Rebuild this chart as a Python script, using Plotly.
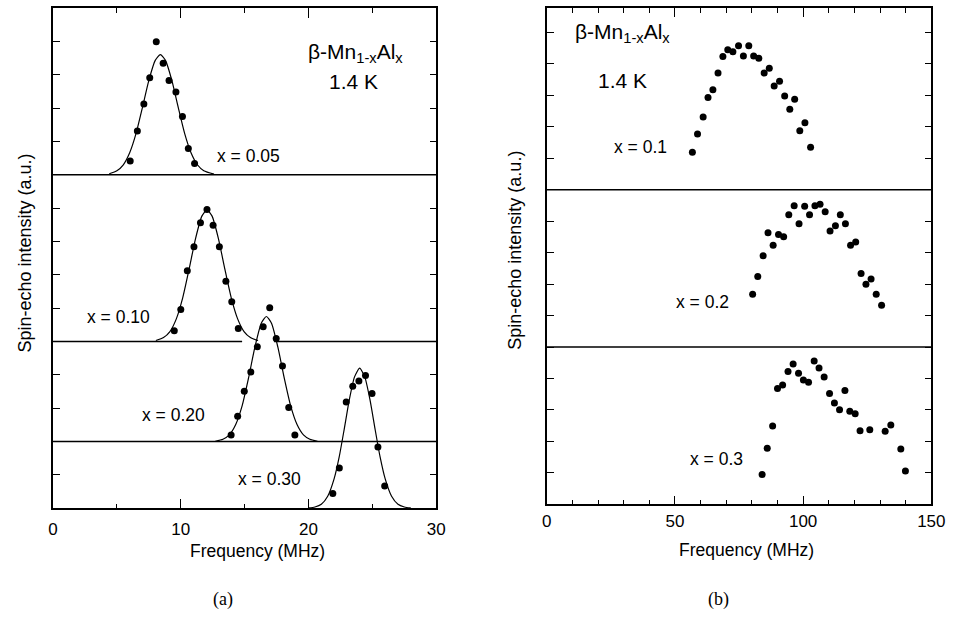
import plotly.graph_objects as go

# ---------------- Panel (a): data ----------------
a_x005_freq = [6.04, 6.60, 7.11, 7.57, 8.08, 8.62, 9.08, 9.62, 10.13, 10.59, 11.08]
a_x005_int = [10.41, 11.31, 12.12, 12.91, 13.99, 13.34, 12.83, 12.48, 11.75, 10.79, 10.34]
a_x005_fit_freq = [4.4, 5.0, 5.5, 6.0, 6.5, 7.0, 7.5, 8.0, 8.4, 8.8, 9.3, 9.8, 10.3, 10.8, 11.3, 11.8, 12.6]
a_x005_fit_int = [10.03, 10.12, 10.30, 10.66, 11.24, 12.02, 12.83, 13.43, 13.60, 13.43, 12.83, 12.02, 11.24, 10.66, 10.30, 10.12, 10.02]

a_x010_freq = [9.49, 10.0, 10.51, 11.03, 11.54, 12.05, 12.53, 13.02, 13.53, 13.99, 14.5]
a_x010_int = [5.32, 5.96, 7.12, 7.84, 8.56, 8.96, 8.49, 7.84, 6.81, 6.19, 5.39]
a_x010_fit_freq = [8.05, 8.65, 9.15, 9.65, 10.15, 10.65, 11.15, 11.65, 12.05, 12.45, 12.95, 13.45, 13.95, 14.45, 14.95, 15.45, 16.05]
a_x010_fit_int = [5.03, 5.12, 5.30, 5.68, 6.31, 7.17, 8.08, 8.76, 8.95, 8.76, 8.08, 7.17, 6.31, 5.68, 5.30, 5.12, 5.03]

a_x020_freq = [13.94, 14.45, 14.97, 15.48, 15.99, 16.45, 16.96, 17.47, 17.96, 18.45, 18.93]
a_x020_int = [2.20, 2.76, 3.51, 4.09, 4.84, 5.44, 6.01, 5.09, 4.27, 3.02, 2.20]
a_x020_fit_freq = [12.7, 13.3, 13.8, 14.3, 14.8, 15.3, 15.8, 16.3, 16.7, 17.1, 17.6, 18.1, 18.6, 19.1, 19.6, 20.1, 20.7]
a_x020_fit_int = [2.01, 2.07, 2.20, 2.51, 3.07, 3.90, 4.83, 5.55, 5.75, 5.55, 4.83, 3.90, 3.07, 2.51, 2.20, 2.07, 2.01]

a_x030_freq = [21.9, 22.41, 22.95, 23.46, 23.94, 24.46, 24.97, 25.43, 25.96]
a_x030_int = [0.44, 1.21, 3.19, 3.66, 3.82, 3.98, 3.44, 1.84, 0.67]
a_x030_fit_freq = [20.0, 20.5, 21.0, 21.5, 22.0, 22.4, 22.8, 23.2, 23.6, 24.0, 24.4, 24.8, 25.2, 25.6, 26.0, 26.5, 27.0, 27.5, 28.0]
a_x030_fit_int = [0.01, 0.04, 0.12, 0.36, 0.88, 1.54, 2.39, 3.27, 3.94, 4.20, 3.94, 3.27, 2.39, 1.54, 0.88, 0.36, 0.12, 0.04, 0.01]

# baselines of panel (a)
a_baseline_x = [[0, 30], [0, 14.8, None, 17.3, 30], [0, 30]]
a_baseline_y = [[10, 10], [5, 5, None, 5, 5], [2, 2]]

a_labels = ["x = 0.05", "x = 0.10", "x = 0.20", "x = 0.30"]
a_label_x = [15.3, 5.1, 9.4, 16.95]
a_label_y = [10.56, 5.74, 2.79, 0.89]

# ---------------- Panel (b) ----------------
b_x01_freq = [56.8, 58.8, 61.0, 62.9, 64.8, 66.8, 68.7, 70.6, 72.6, 74.8, 76.7, 78.8, 80.7, 82.7,
              84.8, 86.8, 88.7, 90.8, 92.8, 94.8, 96.7, 98.7, 100.7, 102.9]
b_x01_int = [11.19, 11.77, 12.31, 12.93, 13.18, 13.71, 14.24, 14.45, 14.39, 14.58, 14.25, 14.58, 14.25, 14.18,
             13.71, 13.86, 13.30, 13.45, 12.98, 12.56, 12.88, 11.88, 12.13, 11.35]

b_x02_freq = [80.3, 82.3, 84.4, 86.3, 88.3, 90.4, 92.4, 94.4, 96.5, 98.4, 100.6, 102.5, 104.6, 106.6,
              108.6, 110.5, 112.6, 114.5, 116.5, 118.5, 120.5, 122.6, 124.5, 126.5, 128.5, 130.6]
b_x02_int = [6.68, 7.24, 7.90, 8.63, 8.24, 8.58, 8.51, 9.21, 9.49, 8.92, 9.48, 9.21, 9.49, 9.54,
             9.30, 8.69, 8.86, 9.21, 8.92, 8.24, 8.34, 7.34, 7.00, 7.16, 6.68, 6.33]

b_x03_freq = [84.0, 86.0, 88.1, 90.0, 92.0, 94.1, 96.1, 98.2, 100.1, 102.1, 104.3, 106.2, 108.2, 110.3,
              112.2, 114.2, 116.3, 118.2, 120.3, 122.2, 126.0, 132.0, 134.2, 138.1, 139.9]
b_x03_int = [0.95, 1.78, 2.49, 3.68, 3.79, 4.22, 4.46, 4.17, 3.95, 3.88, 4.56, 4.33, 4.05, 3.52,
             3.22, 3.01, 3.62, 2.96, 2.88, 2.34, 2.37, 2.32, 2.52, 1.76, 1.06]

b_baseline_levels = [10, 5]

b_labels = ["x = 0.1", "x = 0.2", "x = 0.3"]
b_label_x = [36.5, 60.9, 66.1]
b_label_y = [11.37, 6.44, 1.44]

# ---------------- Figure ----------------
W, H = 961, 618
FONT = "Liberation Sans, Arial, Helvetica, sans-serif"
SERIF = "Liberation Serif, Times New Roman, serif"
BLACK = "#000000"

fig = go.Figure()

marker = dict(color=BLACK, size=7, symbol="circle")
fitline = dict(color=BLACK, width=1.2, shape="spline", smoothing=0.6)

# panel (a)
for xs, ys in zip(a_baseline_x, a_baseline_y):
    fig.add_trace(go.Scatter(x=xs, y=ys, mode="lines", line=dict(color=BLACK, width=1.5),
                             xaxis="x", yaxis="y", showlegend=False, hoverinfo="skip"))
for fx, fy in [(a_x005_fit_freq, a_x005_fit_int), (a_x010_fit_freq, a_x010_fit_int),
               (a_x020_fit_freq, a_x020_fit_int), (a_x030_fit_freq, a_x030_fit_int)]:
    fig.add_trace(go.Scatter(x=fx, y=fy, mode="lines", line=fitline,
                             xaxis="x", yaxis="y", showlegend=False))
for px_, py_ in [(a_x005_freq, a_x005_int), (a_x010_freq, a_x010_int),
                 (a_x020_freq, a_x020_int), (a_x030_freq, a_x030_int)]:
    fig.add_trace(go.Scatter(x=px_, y=py_, mode="markers", marker=marker,
                             xaxis="x", yaxis="y", showlegend=False))

# panel (b)
for lvl in b_baseline_levels:
    fig.add_trace(go.Scatter(x=[0, 150], y=[lvl, lvl], mode="lines", line=dict(color=BLACK, width=1.5),
                             xaxis="x2", yaxis="y2", showlegend=False, hoverinfo="skip"))
for px_, py_ in [(b_x01_freq, b_x01_int), (b_x02_freq, b_x02_int), (b_x03_freq, b_x03_int)]:
    fig.add_trace(go.Scatter(x=px_, y=py_, mode="markers", marker=marker,
                             xaxis="x2", yaxis="y2", showlegend=False))


def xd(a, b):
    return [a / W, b / W]


def yd(top, bottom):
    return [(H - bottom) / H, (H - top) / H]


def ppx(px):
    return px / W


def ppy(py):
    return (H - py) / H


axis_common = dict(showline=True, linecolor=BLACK, linewidth=1.5, mirror="ticks",
                   ticks="inside", tickcolor=BLACK, showgrid=False, zeroline=False,
                   tickfont=dict(family=FONT, size=17, color=BLACK))

fig.update_layout(
    width=W, height=H, autosize=False,
    margin=dict(l=0, r=0, t=0, b=0),
    paper_bgcolor="white", plot_bgcolor="white",
    xaxis=dict(domain=xd(49, 440), range=[0, 30], tickmode="linear", tick0=0, dtick=10,
               ticklen=10, tickwidth=1.2, anchor="y", ticklabelstandoff=5,
               minor=dict(dtick=5, ticklen=5, tickcolor=BLACK, ticks="inside", showgrid=False),
               **axis_common),
    yaxis=dict(domain=yd(8, 508.3), range=[0, 15], tickmode="linear", tick0=0, dtick=1,
               ticklen=7, tickwidth=1.2, showticklabels=False, anchor="x", **axis_common),
    xaxis2=dict(domain=xd(552.7, 945), range=[0, 150], tickmode="linear", tick0=0, dtick=50,
                ticklen=9, tickwidth=1.2, anchor="y2", ticklabelstandoff=1,
                minor=dict(dtick=10, ticklen=5, tickcolor=BLACK, ticks="inside", showgrid=False),
                **axis_common),
    yaxis2=dict(domain=yd(8.3, 504.3), range=[0, 15.77], tickmode="linear", tick0=0, dtick=1,
                ticklen=7, tickwidth=1.2, showticklabels=False, anchor="x2", **axis_common),
)

ann = []
label_font = dict(family=FONT, size=17.5, color=BLACK)
for t, x, y in zip(a_labels, a_label_x, a_label_y):
    ann.append(dict(text=t, x=x, y=y, xref="x", yref="y", showarrow=False, font=label_font))
for t, x, y in zip(b_labels, b_label_x, b_label_y):
    ann.append(dict(text=t, x=x, y=y, xref="x2", yref="y2", showarrow=False, font=label_font))

title_txt = "β-Mn<sub>1-x</sub>Al<sub>x</sub>"
title_font = dict(family=FONT, size=21, color=BLACK)
ann.append(dict(text=title_txt, x=23.7, y=13.65, xref="x", yref="y", showarrow=False, font=title_font))
ann.append(dict(text="1.4 K", x=23.5, y=12.79, xref="x", yref="y", showarrow=False, font=title_font))
ann.append(dict(text=title_txt, x=29.6, y=14.99, xref="x2", yref="y2", showarrow=False, font=title_font))
ann.append(dict(text="1.4 K", x=29.6, y=13.49, xref="x2", yref="y2", showarrow=False, font=title_font))

# axis titles and panel captions (pixel positions measured on the reference)
ytitle = "Spin-echo intensity (a.u.)"
centered = dict(xref="paper", yref="paper", showarrow=False, xanchor="center", yanchor="middle")
ann.append(dict(text=ytitle, x=ppx(20), y=ppy(253), textangle=-90,
                font=dict(family=FONT, size=18, color=BLACK), **centered))
ann.append(dict(text=ytitle, x=ppx(520), y=ppy(250), textangle=-90,
                font=dict(family=FONT, size=18, color=BLACK), **centered))
ann.append(dict(text="Frequency (MHz)", x=ppx(258), y=ppy(551),
                font=dict(family=FONT, size=17.5, color=BLACK), **centered))
ann.append(dict(text="Frequency (MHz)", x=ppx(756), y=ppy(550),
                font=dict(family=FONT, size=17.5, color=BLACK), **centered))
ann.append(dict(text="(a)", x=ppx(222), y=ppy(599),
                font=dict(family=SERIF, size=18, color=BLACK), **centered))
ann.append(dict(text="(b)", x=ppx(728), y=ppy(599),
                font=dict(family=SERIF, size=18, color=BLACK), **centered))

fig.update_layout(annotations=ann)

# remove the default page margin so the figure sits at the window's top-left corner
fig.write_html("out.html", config={"displayModeBar": False},
               post_script="document.body.style.margin='0';")
